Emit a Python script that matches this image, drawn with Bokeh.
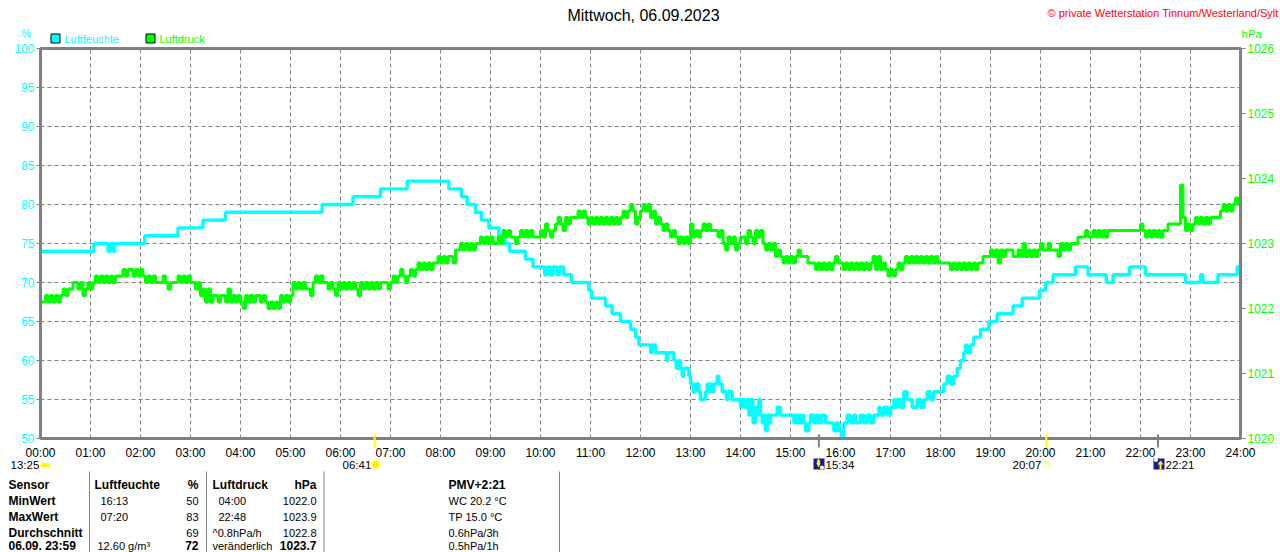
from bokeh.embed import file_html
from bokeh.resources import INLINE
from bokeh.plotting import figure
from bokeh.core.properties import value
from bokeh.models import Range1d, LinearAxis, FixedTicker
import math

# ---- data ----
hours_labels = ["%02d:00" % h for h in range(25)]
humidity_ticks = [50, 55, 60, 65, 70, 75, 80, 85, 90, 95, 100]
pressure_ticks = [1020, 1021, 1022, 1023, 1024, 1025, 1026]

humidity_minutes = [
    0, 64, 81, 84, 87, 89, 125, 165, 195, 222,
    338, 375, 408, 440, 490, 505, 512, 522, 529, 538,
    550, 557, 563, 582, 591, 605, 608, 612, 615, 620,
    623, 628, 637, 658, 661, 678, 686, 696, 708, 714,
    718, 732, 734, 738, 751, 753, 760, 763, 766,
    768, 770, 772, 778, 780, 783, 786, 790, 792, 798,
    800, 802, 804, 806, 808, 812, 814, 818, 823, 825,
    830, 840, 842, 845, 848, 850, 852, 855, 858, 860,
    862, 864, 866, 868, 870, 872, 874, 876, 884, 888,
    904, 906, 908, 910, 912, 914, 916, 918, 922, 924,
    928, 931, 934, 937, 942, 952, 955, 958, 961, 964,
    968, 972, 976, 978, 984, 988, 992, 996, 1000, 1006,
    1008, 1012, 1016, 1020, 1024, 1026, 1028, 1032, 1036, 1040,
    1046, 1052, 1056, 1060, 1064, 1068, 1072, 1084, 1088, 1092,
    1096, 1100, 1104, 1108, 1110, 1112, 1116, 1120, 1128, 1138,
    1148, 1167, 1178, 1199, 1206, 1215, 1242, 1257, 1279, 1287,
    1307, 1326, 1374, 1392, 1395, 1413, 1436]
humidity_values = [
    74, 75, 74, 75, 74, 75, 76, 77, 78, 79,
    80, 81, 82, 83, 82, 81, 80, 79, 78, 77,
    76, 75, 74, 73, 72, 71, 72, 71, 72, 71,
    72, 71, 70, 69, 68, 67, 66, 65, 64, 63,
    62, 61, 62, 61, 60, 61, 60, 59, 60,
    59, 58, 59, 58, 57, 56, 57, 56, 55, 56,
    57, 56, 57, 56, 57, 58, 57, 56, 55, 56,
    55, 54, 55, 54, 55, 53, 55, 52, 54, 53,
    55, 53, 52, 53, 51, 53, 52, 53, 54, 53,
    52, 53, 52, 53, 52, 53, 52, 51, 52, 53,
    52, 53, 52, 53, 52, 51, 52, 51, 50, 52,
    53, 52, 53, 52, 53, 52, 53, 52, 53, 54,
    53, 54, 53, 54, 55, 54, 55, 54, 56, 55,
    54, 55, 54, 55, 56, 55, 56, 57, 58, 57,
    58, 59, 60, 61, 62, 61, 62, 63, 64, 65,
    66, 67, 68, 69, 70, 71, 72, 71, 70, 71,
    72, 71, 70, 71, 70, 71, 72]

pressure_step_minutes = 3
pressure_values = [
    1022.1, 1022.1, 1022.2, 1022.1, 1022.2, 1022.1, 1022.2, 1022.1, 1022.2, 1022.3, 1022.2, 1022.3, 1022.3, 1022.4, 1022.4, 1022.3, 1022.4, 1022.2, 1022.3, 1022.4,
    1022.3, 1022.4, 1022.5, 1022.4, 1022.5, 1022.4, 1022.5, 1022.4, 1022.5, 1022.4, 1022.5, 1022.5, 1022.5, 1022.6, 1022.5, 1022.6, 1022.6, 1022.5, 1022.6, 1022.5,
    1022.6, 1022.5, 1022.4, 1022.5, 1022.4, 1022.5, 1022.4, 1022.4, 1022.4, 1022.5, 1022.4, 1022.3, 1022.4, 1022.4, 1022.4, 1022.5, 1022.4, 1022.5, 1022.4, 1022.5,
    1022.4, 1022.4, 1022.3, 1022.4, 1022.2, 1022.3, 1022.1, 1022.3, 1022.1, 1022.2, 1022.2, 1022.1, 1022.2, 1022.2, 1022.1, 1022.3, 1022.1, 1022.2, 1022.1, 1022.2,
    1022.1, 1022.0, 1022.2, 1022.1, 1022.2, 1022.1, 1022.2, 1022.2, 1022.1, 1022.2, 1022.1, 1022.0, 1022.1, 1022.0, 1022.1, 1022.0, 1022.2, 1022.1, 1022.2, 1022.1,
    1022.2, 1022.4, 1022.3, 1022.4, 1022.3, 1022.4, 1022.3, 1022.3, 1022.2, 1022.4, 1022.5, 1022.4, 1022.5, 1022.4, 1022.4, 1022.3, 1022.4, 1022.3, 1022.2, 1022.4,
    1022.3, 1022.4, 1022.3, 1022.4, 1022.3, 1022.4, 1022.3, 1022.2, 1022.4, 1022.3, 1022.4, 1022.3, 1022.4, 1022.3, 1022.4, 1022.3, 1022.4, 1022.4, 1022.4, 1022.3,
    1022.4, 1022.5, 1022.4, 1022.5, 1022.6, 1022.5, 1022.4, 1022.5, 1022.6, 1022.5, 1022.6, 1022.7, 1022.6, 1022.7, 1022.6, 1022.7, 1022.6, 1022.7, 1022.7, 1022.8,
    1022.7, 1022.8, 1022.7, 1022.8, 1022.8, 1022.7, 1022.9, 1022.9, 1023.0, 1022.9, 1023.0, 1022.9, 1023.0, 1022.9, 1023.0, 1023.0, 1023.1, 1023.0, 1023.1, 1023.0,
    1023.1, 1023.0, 1023.0, 1023.1, 1023.0, 1023.2, 1023.1, 1023.2, 1023.1, 1023.1, 1023.0, 1023.1, 1023.2, 1023.1, 1023.2, 1023.1, 1023.2, 1023.1, 1023.1, 1023.1,
    1023.2, 1023.1, 1023.3, 1023.2, 1023.1, 1023.2, 1023.3, 1023.4, 1023.3, 1023.2, 1023.4, 1023.3, 1023.4, 1023.4, 1023.4, 1023.5, 1023.4, 1023.5, 1023.4, 1023.3,
    1023.4, 1023.3, 1023.4, 1023.3, 1023.4, 1023.3, 1023.4, 1023.3, 1023.4, 1023.3, 1023.4, 1023.3, 1023.4, 1023.5, 1023.4, 1023.5, 1023.6, 1023.5, 1023.3, 1023.4,
    1023.5, 1023.6, 1023.5, 1023.6, 1023.4, 1023.5, 1023.3, 1023.4, 1023.3, 1023.2, 1023.3, 1023.2, 1023.1, 1023.2, 1023.1, 1023.0, 1023.1, 1023.0, 1023.1, 1023.0,
    1023.3, 1023.1, 1023.2, 1023.1, 1023.2, 1023.3, 1023.2, 1023.3, 1023.2, 1023.2, 1023.2, 1023.1, 1023.2, 1023.0, 1022.9, 1023.1, 1023.0, 1023.1, 1022.9, 1023.0,
    1023.1, 1023.1, 1023.0, 1023.2, 1023.1, 1023.0, 1023.2, 1023.1, 1023.2, 1023.0, 1022.9, 1023.0, 1022.9, 1023.0, 1022.8, 1022.9, 1022.8, 1022.7, 1022.8, 1022.7,
    1022.8, 1022.7, 1022.8, 1022.9, 1022.8, 1022.8, 1022.8, 1022.7, 1022.7, 1022.7, 1022.6, 1022.7, 1022.6, 1022.7, 1022.6, 1022.7, 1022.6, 1022.7, 1022.8, 1022.7,
    1022.7, 1022.6, 1022.7, 1022.6, 1022.7, 1022.6, 1022.7, 1022.6, 1022.7, 1022.6, 1022.7, 1022.6, 1022.7, 1022.8, 1022.6, 1022.8, 1022.6, 1022.7, 1022.6, 1022.5,
    1022.6, 1022.5, 1022.6, 1022.7, 1022.6, 1022.7, 1022.8, 1022.7, 1022.8, 1022.7, 1022.8, 1022.7, 1022.8, 1022.7, 1022.8, 1022.7, 1022.8, 1022.7, 1022.8, 1022.7,
    1022.7, 1022.7, 1022.7, 1022.7, 1022.6, 1022.7, 1022.6, 1022.7, 1022.6, 1022.7, 1022.6, 1022.7, 1022.6, 1022.7, 1022.6, 1022.7, 1022.7, 1022.8, 1022.8, 1022.8,
    1022.9, 1022.8, 1022.9, 1022.7, 1022.9, 1022.8, 1022.9, 1022.9, 1022.9, 1022.8, 1022.8, 1022.9, 1022.8, 1023.0, 1022.8, 1022.9, 1022.8, 1022.9, 1022.8, 1022.9,
    1023.0, 1022.9, 1022.9, 1023.0, 1022.9, 1022.9, 1022.9, 1022.8, 1023.0, 1022.9, 1023.0, 1022.9, 1023.0, 1023.0, 1023.0, 1023.1, 1023.1, 1023.1, 1023.2, 1023.1,
    1023.1, 1023.2, 1023.1, 1023.2, 1023.1, 1023.2, 1023.1, 1023.2, 1023.2, 1023.2, 1023.2, 1023.2, 1023.2, 1023.2, 1023.2, 1023.2, 1023.2, 1023.2, 1023.2, 1023.2,
    1023.3, 1023.2, 1023.1, 1023.2, 1023.1, 1023.2, 1023.1, 1023.2, 1023.1, 1023.2, 1023.2, 1023.3, 1023.3, 1023.3, 1023.3, 1023.3, 1023.9, 1023.4, 1023.2, 1023.3,
    1023.2, 1023.3, 1023.4, 1023.3, 1023.4, 1023.3, 1023.4, 1023.3, 1023.4, 1023.4, 1023.4, 1023.4, 1023.5, 1023.6, 1023.5, 1023.6, 1023.5, 1023.6, 1023.7, 1023.6,
    1023.7]

event_markers = [("06:41", 401, "#FFFF00"), ("15:34", 934, "#808080"), ("20:07", 1207, "#FFFF00"), ("22:21", 1341, "#808080")]

table_header = ["Sensor", "Luftfeuchte", "%", "Luftdruck", "hPa", "PMV+2:21"]
table_rows = [
    ["MinWert", "16:13", "50", "04:00", "1022.0", "WC 20.2 °C"],
    ["MaxWert", "07:20", "83", "22:48", "1023.9", "TP 15.0 °C"],
    ["Durchschnitt", "", "69", "^0.8hPa/h", "1022.8", "0.6hPa/3h"],
    ["06.09. 23:59", "12.60 g/m³", "72", "veränderlich", "1023.7", "0.5hPa/1h"],
]

# ---- layout ----
W, H = 1280, 552
LEFT, TOP, FW, FH = 40, 48, 1200, 390
FONT = "Liberation Sans"
GRAY = "#808080"
CYAN = "#00FFFF"
LIME = "#00FF00"

# The frame fills the whole canvas: things outside the plot area are then still drawn.
PX_X = 1440 / FW        # minutes per pixel
PX_H = 50 / FH          # percent per pixel
PX_P = 6 / FH           # hPa per pixel


def mx(px):
    return (px - LEFT) * PX_X


def my(py):
    return 100 - (py - TOP) * PX_H


p = figure(width=W, height=H, output_backend="svg", toolbar_location=None,
           x_range=Range1d(mx(0), mx(W)), y_range=Range1d(my(H), my(0)),
           frame_width=W, frame_height=H,
           min_border_left=0, min_border_right=0, min_border_top=0, min_border_bottom=0,
           background_fill_color="white", border_fill_color="white",
           x_axis_type=None, y_axis_type=None)
p.outline_line_color = None

p.extra_y_ranges = {"pressure": Range1d(1026 - (H - TOP) * PX_P, 1026 + TOP * PX_P)}

xaxis = LinearAxis(fixed_location=50, ticker=FixedTicker(ticks=[h * 60 for h in range(25)]),
                   major_label_overrides={h * 60: hours_labels[h] for h in range(25)})
xaxis.major_label_text_font = FONT
xaxis.major_label_text_font_size = "12px"
xaxis.major_label_text_color = "black"
xaxis.major_label_standoff = 1
xaxis.axis_line_color = None
xaxis.major_tick_line_color = None
xaxis.minor_tick_line_color = None
p.add_layout(xaxis, "below")

yaxis = LinearAxis(fixed_location=0, ticker=FixedTicker(ticks=humidity_ticks))
yaxis.major_label_text_font = FONT
yaxis.major_label_text_font_size = "12px"
yaxis.major_label_text_color = CYAN
yaxis.major_label_standoff = 2
yaxis.axis_line_color = None
yaxis.major_tick_line_color = GRAY
yaxis.major_tick_out = 4
yaxis.major_tick_in = 0
yaxis.minor_tick_line_color = None
p.add_layout(yaxis, "left")

raxis = LinearAxis(fixed_location=1440, y_range_name="pressure", ticker=FixedTicker(ticks=pressure_ticks))
raxis.major_label_text_font = FONT
raxis.major_label_text_font_size = "12px"
raxis.major_label_text_color = LIME
raxis.major_label_standoff = 2
raxis.axis_line_color = None
raxis.major_tick_line_color = GRAY
raxis.major_tick_out = 5
raxis.major_tick_in = 0
raxis.minor_tick_line_color = None
p.add_layout(raxis, "right")

# grid
grid_x = [h * 60 for h in range(1, 24)]
grid_y = humidity_ticks[1:-1]
p.segment(grid_x, [50] * len(grid_x), grid_x, [100] * len(grid_x), line_color=GRAY, line_width=1, line_dash="4 3")
p.segment([0] * len(grid_y), grid_y, [1440] * len(grid_y), grid_y, line_color=GRAY, line_width=1, line_dash="4 3")

pressure_minutes = [i * pressure_step_minutes for i in range(len(pressure_values))]
p.step(humidity_minutes + [1440], humidity_values + [humidity_values[-1]], mode="after",
       line_color=CYAN, line_width=3.4)
p.step(pressure_minutes, pressure_values, mode="after", y_range_name="pressure", line_color=LIME, line_width=3)

# plot border
p.quad(left=[0], right=[1440], bottom=[50], top=[100], fill_color=None, line_color=GRAY, line_width=3)


def text(x, y, s, color="black", size=12, bold=False, align="left"):
    p.text([mx(x)], [my(y)], text=[s], text_font=value(FONT), text_font_size=value(f"{size}px"),
           text_color=color, text_font_style="bold" if bold else "normal",
           text_align=align, text_baseline="middle")


def box(x0, y0, x1, y1, fill, line=None, line_width=1):
    p.quad(left=[mx(x0)], right=[mx(x1)], top=[my(y0)], bottom=[my(y1)],
           fill_color=fill, line_color=line, line_width=line_width)


def poly(xs, ys, fill):
    p.patch([mx(x) for x in xs], [my(y) for y in ys], fill_color=fill, line_color=None)


def disc(cx, cy, r, fill, a0=0.0, a1=360.0):
    n = 16
    pts = [math.radians(a0 + (a1 - a0) * i / n) for i in range(n + 1)]
    poly([cx + r * math.cos(a) for a in pts], [cy - r * math.sin(a) for a in pts], fill)


# titles
text(643, 15, "Mittwoch, 06.09.2023", size=16, align="center")
text(1047, 12, "© private Wetterstation Tinnum/Westerland/Sylt", color="#FF0000", size=11)
text(26, 32, "%", color=CYAN, size=11, align="center")
text(1241, 33, "hPa", color=LIME, size=11.5)

# legend
box(50.5, 33.5, 59.5, 42.5, CYAN, "black", 1)
text(64, 38, "Luftfeuchte", color=CYAN, size=11)
box(145.5, 33.5, 154.5, 42.5, LIME, "black", 1)
text(159, 38, "Luftdruck", color=LIME, size=11)

# sunrise / sunset / moon markers under the axis
for _, minute, color in event_markers:
    p.quad(left=[minute - PX_X], right=[minute + PX_X], top=[my(434)], bottom=[my(447)], fill_color=color, line_color=None)

text(10, 464, "13:25", size=11.5)
disc(44.5, 467, 5, "#FFFF00", 0, 180)
text(342, 464, "06:41", size=11.5)
disc(375, 464, 5.5, "#FFFF99")
disc(375, 464, 3.5, "#FFEE00")
text(1012, 464, "20:07", size=11.5)
box(1043.5, 461.5, 1048.5, 466.5, None, "#FFFF66", 1)
text(825, 464, "15:34", size=11.5)
box(813, 458, 824, 469, "#1A1A8C")
poly([816, 818, 820, 819, 820, 818, 816, 817], [461, 458, 461, 461, 463, 467, 463, 461], "#FFFF00")
disc(821.5, 467, 2, "#FFFFFF")
text(1165, 464, "22:21", size=11.5)
box(1153, 458, 1164, 469, "#1A1A8C")
poly([1157, 1160, 1163, 1161, 1161, 1159, 1159], [464, 460, 464, 464, 469, 469, 464], "#FFFF00")
disc(1155.5, 459.5, 2, "#FFFFFF")

# table
for xline in (89, 206, 323.5, 559):
    box(xline - 0.5, 471, xline + 0.5, 552, GRAY)

cols = [(8, "left"), (94, "left"), (198, "right"), (212, "left"), (316, "right"), (448, "left")]
for (x, al), s in zip(cols, table_header):
    text(x, 484, s, bold=True, align=al)

indent = {1: 100, 3: 218}
row_y = [500, 516, 532, 545]
for r, row in enumerate(table_rows):
    y = row_y[r]
    for c, s in enumerate(row):
        if not s:
            continue
        x, al = cols[c]
        if r < 2 and c in indent:
            x = indent[c]
        if r == 3 and c == 1:
            x = 97
        bold = c == 0 or (r == 3 and c in (2, 4))
        text(x, y, s, bold=bold, align=al, size=12 if bold else 11)

open("out.html", "w").write(file_html(p, INLINE))
